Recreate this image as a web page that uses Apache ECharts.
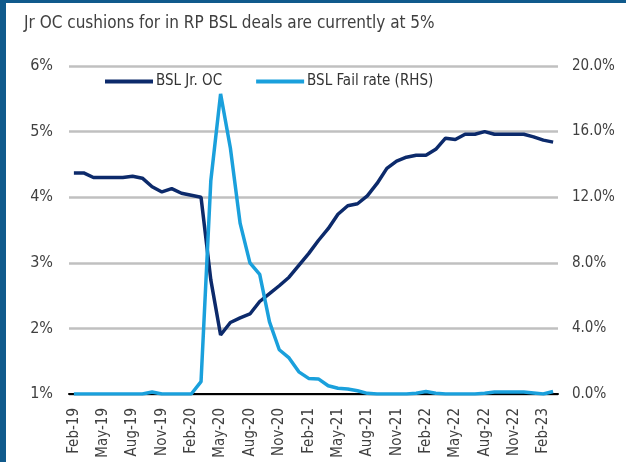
<!DOCTYPE html>
<html>
<head>
<meta charset="utf-8">
<script src="https://cdn.jsdelivr.net/npm/echarts@6/dist/echarts.min.js"></script>
<style>
  html, body { margin: 0; padding: 0; background: #fff; }
  #chart { width: 626px; height: 462px; }
</style>
</head>
<body>
<div id="chart"></div>
<script>
// 月份（Feb-19 ~ Mar-23）
var months = [
  'Feb-19','Mar-19','Apr-19','May-19','Jun-19','Jul-19','Aug-19','Sep-19','Oct-19','Nov-19','Dec-19','Jan-20',
  'Feb-20','Mar-20','Apr-20','May-20','Jun-20','Jul-20','Aug-20','Sep-20','Oct-20','Nov-20','Dec-20','Jan-21',
  'Feb-21','Mar-21','Apr-21','May-21','Jun-21','Jul-21','Aug-21','Sep-21','Oct-21','Nov-21','Dec-21','Jan-22',
  'Feb-22','Mar-22','Apr-22','May-22','Jun-22','Jul-22','Aug-22','Sep-22','Oct-22','Nov-22','Dec-22','Jan-23',
  'Feb-23','Mar-23'
];
// BSL Jr. OC (左轴, %)
var jrOC = [
  4.37, 4.37, 4.30, 4.30, 4.30, 4.30, 4.32, 4.29, 4.16, 4.08, 4.13, 4.06,
  4.03, 4.00, 2.74, 1.90, 2.09, 2.16, 2.22, 2.41, 2.53, 2.65, 2.78, 2.96,
  3.14, 3.34, 3.52, 3.74, 3.87, 3.90, 4.02, 4.21, 4.44, 4.55, 4.61, 4.64,
  4.64, 4.73, 4.90, 4.88, 4.96, 4.96, 5.00, 4.96, 4.96, 4.96, 4.96, 4.92,
  4.87, 4.84
];
// BSL Fail rate (右轴, %)
var failRate = [
  0, 0, 0, 0, 0, 0, 0, 0, 0.12, 0, 0, 0,
  0, 0.75, 13.0, 18.3, 15.0, 10.4, 8.0, 7.3, 4.4, 2.7, 2.2, 1.35,
  0.95, 0.92, 0.5, 0.35, 0.3, 0.2, 0.04, 0, 0, 0, 0, 0.05,
  0.15, 0.05, 0, 0, 0, 0, 0.05, 0.12, 0.12, 0.12, 0.12, 0.06,
  0, 0.15
];
// 刻度
var leftTicks = [1, 6, 1];    // min, max, interval
var rightTicks = [0, 20, 4];

var font = "'Liberation Sans Narrow', 'Arial Narrow', 'DejaVu Sans Condensed', 'Roboto', sans-serif";
var textColor = '#404040';

var chart = echarts.init(document.getElementById('chart'));
var option = {
  animation: false,
  textStyle: { fontFamily: font },
  title: {
    text: 'Jr OC cushions for in RP BSL deals are currently at 5%',
    left: 19,
    top: 10,
    textStyle: { fontSize: 17, fontWeight: 'normal', color: textColor, fontFamily: font }
  },
  legend: {
    left: 100,
    top: 69,
    icon: 'rect',
    itemWidth: 48,
    itemHeight: 4,
    itemGap: 34,
    textStyle: { fontSize: 15, color: '#333', fontFamily: font, padding: [0, 0, 0, -2] },
    data: ['BSL Jr. OC', 'BSL Fail rate (RHS)']
  },
  grid: { left: 69, right: 68, top: 66, bottom: 68 },
  graphic: [
    { type: 'rect', left: 0, top: 0, shape: { width: 626, height: 3 }, style: { fill: '#105a8c' } },
    { type: 'rect', left: 0, top: 0, shape: { width: 6, height: 462 }, style: { fill: '#105a8c' } }
  ],
  xAxis: {
    type: 'category',
    data: months,
    boundaryGap: true,
    axisLine: { lineStyle: { color: '#000', width: 2 } },
    axisTick: { show: false },
    axisLabel: {
      interval: 2,
      rotate: 90,
      margin: 14,
      fontSize: 15,
      color: textColor,
      fontFamily: font
    }
  },
  yAxis: [
    {
      type: 'value',
      min: leftTicks[0], max: leftTicks[1], interval: leftTicks[2],
      axisLine: { show: false },
      axisTick: { show: false },
      splitLine: { lineStyle: { color: '#c0c0c0', width: 2.5 } },
      axisLabel: { formatter: '{value}%', fontSize: 16, color: textColor, margin: 16, fontFamily: font }
    },
    {
      type: 'value',
      min: rightTicks[0], max: rightTicks[1], interval: rightTicks[2],
      axisLine: { show: false },
      axisTick: { show: false },
      splitLine: { show: false },
      axisLabel: {
        formatter: function (v) { return v.toFixed(1) + '%'; },
        fontSize: 15, color: textColor, margin: 14, fontFamily: font
      }
    }
  ],
  series: [
    {
      name: 'BSL Jr. OC',
      type: 'line',
      yAxisIndex: 0,
      data: jrOC,
      symbol: 'none',
      color: '#0c2a6b',
      lineStyle: { width: 3.5, color: '#0c2a6b' }
    },
    {
      name: 'BSL Fail rate (RHS)',
      type: 'line',
      yAxisIndex: 1,
      data: failRate,
      symbol: 'none',
      color: '#1aa0dc',
      lineStyle: { width: 3.5, color: '#1aa0dc' }
    }
  ]
};
chart.setOption(option);
</script>
</body>
</html>
